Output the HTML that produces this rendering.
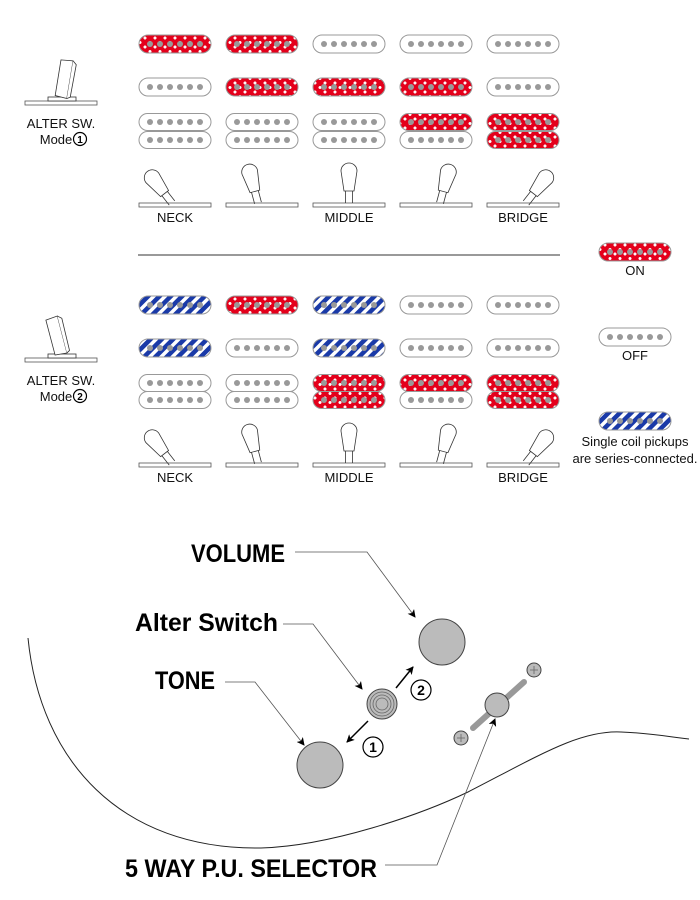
<!DOCTYPE html>
<html><head><meta charset="utf-8"><style>html,body{margin:0;padding:0;background:#fff}svg{display:block}</style></head>
<body>
<svg id="s" width="700" height="900" viewBox="0 0 700 900" xmlns="http://www.w3.org/2000/svg" font-family="Liberation Sans Narrow, Liberation Sans, sans-serif">
<defs>
<pattern id="red" width="10" height="9" patternUnits="userSpaceOnUse">
<rect width="10" height="9" fill="#e4001b"/>
<rect x="4.2" y="0.5" width="1.6" height="3" fill="#fff"/><rect x="3.5" y="1.2" width="3" height="1.6" fill="#fff"/>
<rect x="-0.8" y="5" width="1.6" height="3" fill="#fff"/><rect x="-1.5" y="5.7" width="3" height="1.6" fill="#fff"/>
<rect x="9.2" y="5" width="1.6" height="3" fill="#fff"/><rect x="8.5" y="5.7" width="3" height="1.6" fill="#fff"/>
</pattern>
<pattern id="blue" width="8" height="8" patternUnits="userSpaceOnUse" patternTransform="rotate(45)">
<rect width="8" height="8" fill="#fff"/><rect width="4.5" height="8" fill="#1a3aa8"/>
</pattern>
<marker id="ar" markerWidth="8" markerHeight="8" refX="7" refY="4" orient="auto" markerUnits="userSpaceOnUse"><path d="M0,0 L8,4 L0,8 L2,4z" fill="#000"/></marker>
</defs>
<g id="g"></g>
<line x1="138" y1="255" x2="560" y2="255" stroke="#333" stroke-width="1"/>
<g font-size="13" text-anchor="middle" fill="#111">
<text x="175" y="222">NECK</text><text x="349" y="222">MIDDLE</text><text x="523" y="222">BRIDGE</text>
<text x="175" y="482">NECK</text><text x="349" y="482">MIDDLE</text><text x="523" y="482">BRIDGE</text>
<text x="61" y="128">ALTER SW.</text><text x="56" y="144">Mode</text>
<text x="61" y="385">ALTER SW.</text><text x="56" y="401">Mode</text>
<text x="635" y="275">ON</text><text x="635" y="360">OFF</text>
<text x="635" y="446">Single coil pickups</text><text x="635" y="463">are series-connected.</text>
</g>
<g fill="none" stroke="#000" stroke-width="1.2">
<circle cx="80" cy="139" r="6.5"/><circle cx="80" cy="396" r="6.5"/>
</g>
<g font-size="10" font-weight="bold" text-anchor="middle" font-family="Liberation Sans,sans-serif"><text x="80" y="143">1</text><text x="80" y="400">2</text></g>

<path d="M28,638 C40,760 120,850 261,848 C330,846 420,815 468,792 C540,755 580,730 621,732 C650,733 670,737 689,739" fill="none" stroke="#222" stroke-width="1"/>
<g fill="#bbb" stroke="#444" stroke-width="1">
<circle cx="442" cy="642" r="23"/><circle cx="320" cy="765" r="23"/>
<circle cx="382" cy="704" r="15"/>
<line x1="473" y1="728" x2="524" y2="682" stroke="#999" stroke-width="6" stroke-linecap="round"/>
<circle cx="497" cy="705" r="12"/>
<circle cx="534" cy="670" r="7"/><circle cx="461" cy="738" r="7"/>
</g>
<g fill="none" stroke="#666" stroke-width="0.8">
<circle cx="382" cy="704" r="12"/><circle cx="382" cy="704" r="9"/><circle cx="382" cy="704" r="6"/>
<path d="M530,670h8M534,666v8M457,738h8M461,734v8"/>
</g>
<g stroke="#000" stroke-width="1.5" fill="none" marker-end="url(#ar)">
<line x1="396" y1="688" x2="413" y2="667"/><line x1="368" y1="721" x2="347" y2="742"/>
</g>
<circle cx="421" cy="690" r="10" fill="#fff" stroke="#000" stroke-width="1.2"/>
<circle cx="373" cy="747" r="10" fill="#fff" stroke="#000" stroke-width="1.2"/>
<g font-family="Liberation Sans,sans-serif" font-weight="bold" font-size="14" text-anchor="middle"><text x="421" y="695">2</text><text x="373" y="752">1</text></g>
<g stroke="#555" stroke-width="0.8" fill="none" marker-end="url(#ar)">
<polyline points="295,552 367,552 415,617"/>
<polyline points="283,624 313,624 362,689"/>
<polyline points="225,682 255,682 304,745"/>
<polyline points="385,865 437,865 495,719"/>
</g>
<g font-weight="bold" font-size="25" fill="#000">
<text x="191" y="562" textLength="94" lengthAdjust="spacingAndGlyphs">VOLUME</text>
<text x="135" y="631" textLength="143" lengthAdjust="spacingAndGlyphs">Alter Switch</text>
<text x="155" y="689" textLength="60" lengthAdjust="spacingAndGlyphs">TONE</text>
<text x="125" y="877" textLength="252" lengthAdjust="spacingAndGlyphs">5 WAY P.U. SELECTOR</text>
</g>
</svg>
<script>
var g=document.getElementById('g'),h='';
function pu(cx,cy,hh,t){var w=72,x=cx-36,y=cy-hh/2;
var f=t=='r'?'url(#red)':t=='b'?'url(#blue)':'#fff';
h+='<rect x="'+x+'" y="'+y+'" width="'+w+'" height="'+hh+'" rx="'+hh/2+'" fill="'+f+'" stroke="#999" stroke-width="1"/>';
for(var i=0;i<6;i++)h+='<circle cx="'+(cx-25+i*10)+'" cy="'+cy+'" r="3" fill="#999"/>';}
var X=[175,262,349,436,523];
var M=[
 {y:[44,87,122,140,197],s:['r r o o o','o r r r o','o o o r r','o o o o r']},
 {y:[305,348,383,400,457],s:['b r b o o','b o b o o','o o r r r','o o r o r']}];
M.forEach(function(m){for(var r=0;r<4;r++){var st=m.s[r].split(' ');for(var c=0;c<5;c++)pu(X[c],m.y[r],r<2?18:17,st[c]);}
var ang=[-38,-15,0,15,38];var off=[-3,-4,0,4,3];for(var c=0;c<5;c++)sw(X[c],off[c],m.y[4]+6,ang[c]);});
pu(635,252,18,'r');pu(635,337,18,'o');pu(635,421,18,'b');
function sw(cx,o,by,a){h+='<rect x="'+(cx-36)+'" y="'+by+'" width="72" height="4" fill="#fff" stroke="#555" stroke-width="0.8"/>';
h+='<g transform="translate('+(cx+o)+','+by+') rotate('+a+')" fill="#fff" stroke="#333" stroke-width="0.8"><path d="M-3.5,0 V-13 M3.5,0 V-13"/><path d="M-5,-12 L-8,-32 A8,8 0 0 1 8,-32 L5,-12 Z"/></g>';}
function alt(cx,by,a){h+='<rect x="'+(cx-36)+'" y="'+by+'" width="72" height="4" fill="#fff" stroke="#555" stroke-width="0.8"/><rect x="'+(cx-13)+'" y="'+(by-4)+'" width="28" height="4" fill="#fff" stroke="#333" stroke-width="0.8"/>';
h+='<g transform="translate('+cx+','+(by-4)+') rotate('+a+')" fill="#fff" stroke="#333" stroke-width="0.8"><path d="M-6,0 L-9,-36 L3,-38 L6,0 Z"/><path d="M3,-38 L7,-35 L9,-2 L6,0"/></g>';}
alt(61,101,14);alt(61,358,-10);
g.innerHTML=h;
</script>
</body></html>
